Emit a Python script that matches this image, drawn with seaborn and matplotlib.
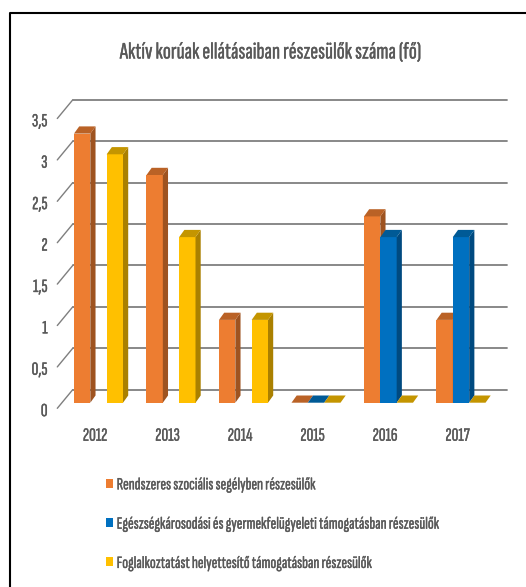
import numpy as np
import pandas as pd
import seaborn as sns
import matplotlib
matplotlib.use('Agg')
import matplotlib.pyplot as plt
import matplotlib.patheffects as pe
from matplotlib.lines import Line2D
from matplotlib.patches import Polygon
from matplotlib.transforms import ScaledTranslation

years = ['2012', '2013', '2014', '2015', '2016', '2017']
rendszeres = [3.25, 2.75, 1, 0, 2.25, 1]
egeszseg = [np.nan, np.nan, np.nan, 0, 2, 2]
foglalkoztatast = [3, 2, 1, 0, 0, 0]
series_names = ['Rendszeres szociális segélyben részesülők',
                'Egészségkárosodási és gyermekfelügyeleti támogatásban részesülők',
                'Foglalkoztatást helyettesítő támogatásban részesülők']
y_ticks = [0, 0.5, 1, 1.5, 2, 2.5, 3, 3.5]
y_labels = ['0', '0,5', '1', '1,5', '2', '2,5', '3', '3,5']
title = 'Aktív korúak ellátásaiban részesülők száma (fő)'

colors = ['#ED7D31', '#0070C0', '#FFC000']
side_colors = {'#ED7D31': '#9E5320', '#0070C0': '#004A80', '#FFC000': '#AA8000'}
top_colors = {'#ED7D31': '#BA6226', '#0070C0': '#005A96', '#FFC000': '#C49500'}
text_gray = '#595959'

df = pd.DataFrame({'year': years,
                   series_names[0]: rendszeres,
                   series_names[1]: egeszseg,
                   series_names[2]: foglalkoztatast})
df = df.melt(id_vars='year', var_name='series', value_name='value')

sns.set_theme(style='white')
plt.rcParams['font.family'] = ['Sofia Sans Extra Condensed', 'DejaVu Sans']

W, H = 526, 587
fig = plt.figure(figsize=(W / 100, H / 100), dpi=100)

# pixel layout of the plot area
left, right, top, bottom = 57.3, 506.7, 100, 408.3
ax = fig.add_axes([left / W, 1 - bottom / H, (right - left) / W, (bottom - top) / H])

sns.barplot(data=df, x='year', y='value', hue='series', hue_order=series_names,
            palette=colors, width=0.676, saturation=1, errorbar=None, linewidth=0, ax=ax, zorder=5)

px_x = 72.5   # pixels per category
px_y = 82.8   # pixels per unit
x0_px = 98.5  # where the first category sits
y0_px = 402.7 # where value 0 sits
ax.set_xlim((left - x0_px) / px_x, (right - x0_px) / px_x)
ax.set_ylim((y0_px - bottom) / px_y, (y0_px - top) / px_y)

# fake 3d: walls and gridlines
wall_dx = 15.4 / px_x
wall_dy = (bottom - 389.7) / px_y
x_min, x_max = ax.get_xlim()
y_min = ax.get_ylim()[0]
for t in y_ticks:
    ax.plot([x_min + wall_dx, x_max], [t + y_min + wall_dy] * 2, color='#7F7F7F', lw=1.3, zorder=1, clip_on=False)
    ax.plot([x_min, x_min + wall_dx], [t + y_min, t + y_min + wall_dy], color='#7F7F7F', lw=1.0, zorder=1, clip_on=False)

# fake 3d: side and top of each bar
dx = 5.2 / px_x
dy = 7.2 / px_y
bars = [b for b in ax.patches if not np.isnan(b.get_height())]
bars = sorted(bars, key=lambda b: b.get_x())
for i, b in enumerate(bars):
    c = matplotlib.colors.to_hex(b.get_facecolor()).upper()
    x, w, h = b.get_x(), b.get_width(), b.get_height()
    z = 5 + i * 0.01
    b.set_zorder(z)
    ax.add_patch(Polygon([(x + w, 0), (x + w + dx, dy), (x + w + dx, h + dy), (x + w, h)],
                         closed=True, fc=side_colors[c], ec='none', zorder=z))
    ax.add_patch(Polygon([(x, h), (x + dx, h + dy), (x + w + dx, h + dy), (x + w, h)],
                         closed=True, fc=top_colors[c], ec='none', zorder=z))

# the font has no usable bold here, thicken the text a little
heavy = [pe.withStroke(linewidth=0.25, foreground=text_gray)]

sns.despine(ax=ax, left=True, bottom=True)
ax.set_xlabel('')
ax.set_ylabel('')
ax.set_yticks(y_ticks, y_labels)
ax.tick_params(axis='y', length=0, pad=7, labelsize=13.5, labelcolor=text_gray)
ax.tick_params(axis='x', length=0, pad=14, labelsize=13.5, labelcolor=text_gray)
for lab in ax.get_yticklabels():
    lab.set_transform(lab.get_transform() + ScaledTranslation(0, -7 / 100, fig.dpi_scale_trans))
    lab.set_path_effects(heavy)
for lab in ax.get_xticklabels():
    lab.set_transform(lab.get_transform() + ScaledTranslation(-3.5 / 100, 0, fig.dpi_scale_trans))
    lab.set_path_effects(heavy)

fig.text(271 / W, 1 - 52.5 / H, title, ha='center', va='center', fontsize=17, color=text_gray, path_effects=heavy)

legend_size = 12.4
handles = ax.get_legend_handles_labels()[0]
leg = ax.legend(handles, series_names, loc='upper left', bbox_to_anchor=(106 / W, 1 - 477.4 / H),
                bbox_transform=fig.transFigure, frameon=False, borderpad=0, borderaxespad=0,
                handlelength=7 / (legend_size * 1.389), handleheight=7 / (legend_size * 1.389),
                handletextpad=3.7 / (legend_size * 1.389), labelspacing=1.41,
                fontsize=legend_size, labelcolor=text_gray)
for t in leg.get_texts():
    t.set_path_effects(heavy)

# black frame of the screenshot
fig.add_artist(Line2D([10 / W, 10 / W, 1], [0, 1 - 13 / H, 1 - 13 / H], color='black', lw=1.5))

fig.savefig('out.png', dpi=100)
